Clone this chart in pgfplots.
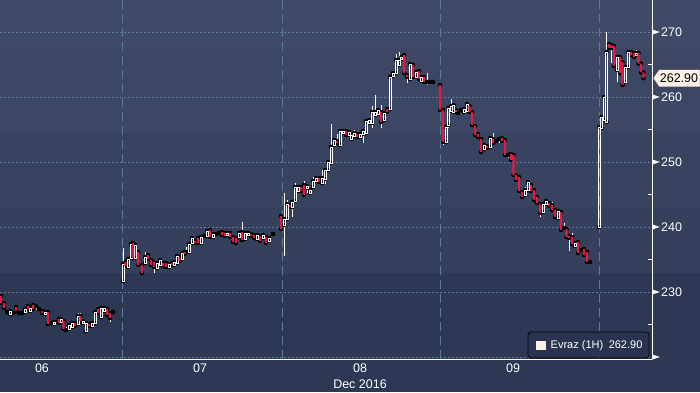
\documentclass[border=0pt]{standalone}
\usepackage{pgfplots}
\pgfplotsset{compat=1.18}
\usepackage{pgfplotstable}
\usepackage{fontspec}
\setmainfont{Liberation Sans}

\definecolor{bgA}{HTML}{3F4A66}
\definecolor{bgB}{HTML}{3C4763}
\definecolor{bgC}{HTML}{38445F}
\definecolor{bgD}{HTML}{35415C}
\definecolor{bgE}{HTML}{2D3854}
\definecolor{gridc}{HTML}{5C7A99}
\definecolor{candred}{HTML}{E31B44}
\definecolor{cream}{HTML}{FDF1E8}
\definecolor{legbg}{HTML}{2A3450}

% rising / unchanged candles (hollow white)
\pgfplotstableread{
x o h l c
7 226.92 227.08 226.77 226.92
10 226.61 227.08 226.61 227.08
13 226.77 226.77 226.77 226.77
19 226.77 226.77 226.77 226.77
22 226.77 226.77 226.77 226.77
25 226.92 227.38 226.92 227.38
30 227.08 227.54 227.08 227.54
36 227.84 227.84 227.23 227.84
39 227.38 227.38 227.38 227.38
45 226.61 226.92 226.61 226.92
51 225.23 225.38 225.08 225.23
54 225.08 225.38 225.08 225.38
57 225.38 225.69 225.38 225.38
61 225.38 225.85 225.38 225.85
66 224.15 224.62 224.15 224.15
69 224.31 224.92 224.31 224.92
72 224.62 225.23 224.31 225.23
78 225.08 226.77 225.08 226.31
83 225.23 225.54 225.23 225.54
86 224.00 225.38 223.85 225.23
92 224.77 225.23 224.77 225.23
95 225.23 226.92 225.23 226.92
101 226.15 227.54 226.15 227.54
104 227.08 227.54 227.08 227.54
113 226.92 226.92 226.92 226.92
123 231.69 236.77 231.38 234.31
128 233.85 235.08 233.85 235.08
131 235.23 237.54 235.23 237.38
135 235.23 237.23 235.23 237.23
145 234.46 236.15 234.46 235.38
157 233.69 234.46 233.69 234.46
160 234.15 235.08 234.15 234.92
169 233.85 234.31 233.85 234.31
174 234.15 234.62 234.15 234.62
177 234.46 235.54 234.46 235.54
182 235.08 236.00 235.08 236.00
186 236.15 236.92 236.15 236.15
189 236.15 237.38 236.15 237.38
192 237.54 238.31 237.54 238.31
201 237.54 238.46 237.54 238.46
204 238.62 238.77 238.46 238.62
207 238.62 239.38 238.62 239.38
213 238.46 238.92 238.46 238.92
216 238.92 239.08 238.77 238.92
219 239.08 239.23 238.92 239.08
227 238.77 239.08 238.77 239.08
239 238.46 239.08 238.46 239.08
245 238.15 239.08 238.15 239.08
248 238.77 239.08 238.77 239.08
257 238.15 238.77 238.15 238.77
263 238.31 238.77 238.31 238.77
269 237.85 238.31 237.85 238.31
273 238.92 238.92 238.92 238.92
284 240.31 245.23 235.54 241.23
287 241.23 244.15 241.23 243.54
292 243.08 243.85 241.54 243.85
295 244.00 246.77 244.00 246.15
298 245.54 246.15 245.54 246.15
307 246.00 246.31 245.23 246.31
310 245.23 245.69 245.23 245.69
313 246.15 247.69 246.15 247.08
316 247.08 247.54 247.08 247.54
322 246.77 248.77 246.77 247.54
325 247.38 248.77 246.62 248.77
328 248.77 250.00 248.77 250.00
331 249.85 255.85 249.85 252.31
334 252.62 253.38 252.62 253.38
340 252.62 254.77 252.62 254.77
343 254.46 254.77 254.46 254.77
349 254.15 254.62 254.15 254.62
351.5 253.54 254.15 253.54 254.15
354 254.00 254.92 254.00 254.46
360 253.85 254.31 253.85 254.31
363 254.31 254.77 252.92 254.77
366 254.46 256.31 254.46 256.31
369 256.00 256.46 256.00 256.46
372 256.00 258.62 255.23 257.69
375 257.23 260.31 257.23 257.69
378 257.38 258.00 257.38 258.00
384 256.46 257.54 256.46 257.54
390 258.15 263.08 258.15 263.08
393 263.23 263.69 263.23 263.69
396 263.69 266.62 263.69 265.69
399 264.92 266.92 264.92 265.69
401.5 265.85 266.15 265.85 266.15
410 262.77 265.08 262.77 265.08
416 263.08 263.85 263.08 263.85
421.5 262.46 263.08 262.46 263.08
427 262.31 263.69 261.85 262.31
430 262.31 262.31 262.31 262.31
433 262.31 262.31 262.31 262.31
446 253.08 255.38 253.08 255.38
448.5 255.69 258.62 255.23 258.31
451 257.85 259.69 257.85 258.62
453.5 257.69 258.77 257.69 258.77
458 257.54 257.54 257.54 257.54
461 258.00 258.31 257.69 258.00
464 257.69 258.15 257.69 258.15
467 257.85 258.92 257.85 258.92
484 252.00 252.62 252.00 252.62
490 252.31 253.69 252.31 253.69
496 253.23 253.23 253.23 253.23
499 253.54 253.85 252.92 253.54
508 251.08 251.38 250.62 251.08
525 244.92 246.15 244.92 245.69
528 245.69 246.92 245.69 246.92
543 242.31 243.54 242.31 243.54
546 243.54 244.15 243.54 244.00
558 241.38 242.46 241.38 242.46
564 239.85 240.62 239.85 239.85
575 237.08 237.54 237.08 237.54
581 236.46 236.62 236.15 236.46
590 234.62 234.62 234.62 234.62
599 240.00 255.38 240.00 255.38
601.5 255.23 256.92 255.23 256.92
604 256.46 260.00 256.46 260.00
606.5 256.15 270.00 256.15 266.92
617 264.15 266.15 262.31 266.15
625 262.31 264.62 262.31 264.62
628 264.62 266.92 264.62 266.92
636 266.46 267.23 266.46 266.77
}\upcandles

% falling candles (red)
\pgfplotstableread{
x o h l c
1 229.38 229.38 228.30 228.30
4 228.30 228.30 227.54 227.54
16 227.69 227.69 227.08 227.08
28 227.84 227.84 227.38 227.38
33 228.00 228.00 227.38 227.38
42 227.08 227.08 226.77 226.77
48 226.92 226.92 225.08 225.08
59 225.85 225.85 225.23 225.23
63.5 225.54 225.54 224.31 224.31
75 225.23 225.23 224.77 224.77
80.5 226.31 226.77 225.54 225.54
89 225.08 225.08 224.77 224.77
98 227.38 227.38 226.77 226.77
107 227.38 227.38 226.46 226.46
110 226.77 226.77 225.38 226.00
125.5 234.62 234.62 234.00 234.00
133 237.54 237.54 235.23 235.23
138 236.15 236.15 234.15 234.15
142 234.15 234.15 232.92 232.92
148 235.69 235.69 235.08 235.08
151 234.92 234.92 234.15 234.15
154 234.62 234.62 232.92 233.85
163 234.46 234.46 234.00 234.00
166 234.46 234.46 233.85 233.85
172 234.46 234.46 234.15 234.15
179.5 235.38 235.38 234.77 234.77
184.5 236.15 236.15 235.85 235.85
195 237.85 237.85 237.54 237.54
198 238.31 238.31 237.54 237.54
210 239.54 239.54 238.46 238.46
222 239.23 239.23 238.77 238.77
225 239.08 239.08 238.62 238.62
230 239.08 239.08 238.46 238.46
233 238.46 238.46 237.69 237.69
236 238.31 238.31 237.54 237.54
242 239.23 240.77 238.00 238.00
251 238.92 238.92 238.62 238.62
254 238.77 238.77 238.31 238.31
260 238.62 238.62 237.85 237.85
266 238.46 238.46 237.54 237.54
281 241.69 241.69 239.69 239.69
290 243.38 243.38 243.08 243.08
301 246.15 246.15 245.54 245.54
304 246.46 247.08 244.92 244.92
319 247.54 247.54 246.92 246.92
337 253.23 254.31 252.92 252.92
346 254.77 254.77 254.15 254.15
357 254.31 254.31 253.85 253.85
381 257.69 258.77 255.23 256.15
387 258.15 258.15 257.69 257.69
404 266.46 266.46 263.69 263.69
407 263.38 263.38 262.15 263.08
413 264.92 264.92 263.08 263.08
419 264.00 264.00 262.77 262.77
424 263.08 263.08 262.31 262.31
440 261.85 261.85 258.00 258.00
443 258.00 258.00 252.62 253.08
456 258.00 258.00 257.69 257.69
469.5 258.62 258.62 257.69 257.69
472 257.69 257.69 255.69 255.69
475 255.54 255.54 254.15 254.15
478 254.31 254.62 253.85 253.85
481 253.54 253.54 251.54 251.54
487 252.46 252.46 252.15 252.15
493 253.54 254.46 252.92 252.92
502 253.69 253.69 253.23 253.23
505 253.38 253.38 251.08 251.08
511 251.23 251.23 250.31 250.31
513.5 251.08 251.08 248.00 248.00
516 248.00 248.31 247.23 247.23
519 247.69 247.69 245.54 245.54
522 245.38 245.38 244.62 244.62
531 246.46 246.46 245.54 245.54
534 245.69 245.69 244.15 244.15
537 244.62 244.62 243.69 243.69
540 243.54 243.54 241.54 242.15
549 243.69 243.69 243.23 243.23
552 243.38 243.85 242.62 242.62
555 242.62 242.62 241.54 241.54
561 242.31 242.31 239.54 239.54
566.5 239.69 239.69 238.46 238.46
569 238.62 238.62 236.31 238.31
572 238.46 239.08 237.38 237.38
578 237.69 237.69 236.00 236.00
584 236.62 236.62 235.69 235.69
587 236.15 236.15 234.62 234.62
609 268.15 268.15 267.54 267.54
611.5 268.00 268.00 265.23 267.54
614 267.85 267.85 264.77 264.77
620 266.15 266.15 263.69 263.69
622.5 265.38 265.38 261.85 261.85
631 266.92 266.92 266.46 266.46
634 266.77 266.77 266.15 266.15
638.5 266.77 266.77 265.15 265.15
641 265.15 265.15 263.77 263.77
643.5 263.77 263.77 262.90 262.90
}\downcandles

\pgfplotsset{
  chartbase/.style={scale only axis, width=652pt, height=359pt,
    xmin=0, xmax=652, ymin=219.6923, ymax=274.9231,
    at={(0pt,33pt)}, anchor=south west},
}
\newcommand\lblfont{\fontsize{12.5}{14}\selectfont}

\begin{document}
\begin{tikzpicture}[x=1pt,y=1pt]
\useasboundingbox (0,0) rectangle (700,392);
\fill[bgE] (0,0) rectangle (700,119);
\fill[bgD] (0,119) rectangle (700,185);
\fill[bgC] (0,185) rectangle (700,260);
\fill[bgB] (0,260) rectangle (700,344);
\fill[bgA] (0,344) rectangle (700,392);

\begin{axis}[chartbase,
  axis x line*=bottom, axis y line*=right,
  axis line style={white, line width=0.8pt},
  xtick={122.5,282,440,599.5}, xticklabels={},
  extra x ticks={42,200,360,513}, extra x tick labels={06,07,08,09},
  extra x tick style={grid=none},
  xticklabel style={text=white, font=\lblfont, yshift=-1.5pt},
  ytick={220,230,...,270}, yticklabels={,230,240,250,260,270},
  minor ytick={225,235,...,265},
  yticklabel style={anchor=west, inner sep=0pt, xshift=9pt, text=white, font=\lblfont},
  tick align=inside, major tick length=0pt, minor tick length=4.5pt,
  minor tick style={white, line width=0.8pt},
  xmajorgrids, ymajorgrids,
  x grid style={gridc, dash pattern=on 9pt off 5pt, line width=0.7pt},
  y grid style={gridc, dash pattern=on 2pt off 2pt, line width=0.7pt},
]
% wicks above and below each body
\addplot[only marks, mark=none, error bars/.cd, y dir=plus, y explicit, error mark=none,
  error bar style={white, line width=0.7pt}]
  table[x=x, y expr={max(\thisrow{o},\thisrow{c})}, y error expr={\thisrow{h}-max(\thisrow{o},\thisrow{c})}] {\upcandles};
\addplot[only marks, mark=none, error bars/.cd, y dir=minus, y explicit, error mark=none,
  error bar style={white, line width=0.7pt}]
  table[x=x, y expr={min(\thisrow{o},\thisrow{c})}, y error expr={min(\thisrow{o},\thisrow{c})-\thisrow{l}}] {\upcandles};
\addplot[only marks, mark=none, error bars/.cd, y dir=plus, y explicit, error mark=none,
  error bar style={white, line width=0.7pt}]
  table[x=x, y expr={max(\thisrow{o},\thisrow{c})}, y error expr={\thisrow{h}-max(\thisrow{o},\thisrow{c})}] {\downcandles};
\addplot[only marks, mark=none, error bars/.cd, y dir=minus, y explicit, error mark=none,
  error bar style={white, line width=0.7pt}]
  table[x=x, y expr={min(\thisrow{o},\thisrow{c})}, y error expr={min(\thisrow{o},\thisrow{c})-\thisrow{l}}] {\downcandles};
\end{axis}

\begin{axis}[chartbase, hide axis, ybar stacked, bar width=2.2pt]
\addplot[draw=none, fill=none] table[x=x, y=o] {\upcandles};
\addplot[draw=white, fill=none, line width=0.7pt] table[x=x, y expr=\thisrow{c}-\thisrow{o}] {\upcandles};
\end{axis}

\begin{axis}[chartbase, hide axis, ybar stacked, bar width=2.3pt]
\addplot[draw=none, fill=none] table[x=x, y=c] {\downcandles};
\addplot[draw=none, fill=candred] table[x=x, y expr=\thisrow{o}-\thisrow{c}] {\downcandles};
\end{axis}

% tick flags on the price axis
\foreach \v in {220,230,...,270}{
  \pgfmathsetmacro{\Y}{33+(\v-219.6923)*6.5}
  \fill[white] (652,\Y+2.6) -- (660,\Y) -- (652,\Y-2.6) -- cycle;
}
% last price tag
\filldraw[fill=cream, draw=black!70, line width=0.5pt] (653,313.85) -- (659,322.5) -- (700,322.5) -- (700,305.2) -- (659,305.2) -- cycle;
\node[text=black, font=\lblfont, inner sep=0pt] at (679,313.85) {262.90};
% legend
\draw[fill=legbg, draw=black, line width=0.8pt, rounded corners=3pt] (528,34) rectangle (649,60);
\fill[cream] (536,42) rectangle (546,51);
\node[anchor=west, text=white, font=\fontsize{11}{13}\selectfont, inner sep=0pt] at (550.5,46.5) {Evraz (1H)\hspace{0.5em}262.90};
% date label
\node[text=white, font=\lblfont, inner sep=0pt] at (360,8) {Dec 2016};
\end{tikzpicture}
\end{document}
